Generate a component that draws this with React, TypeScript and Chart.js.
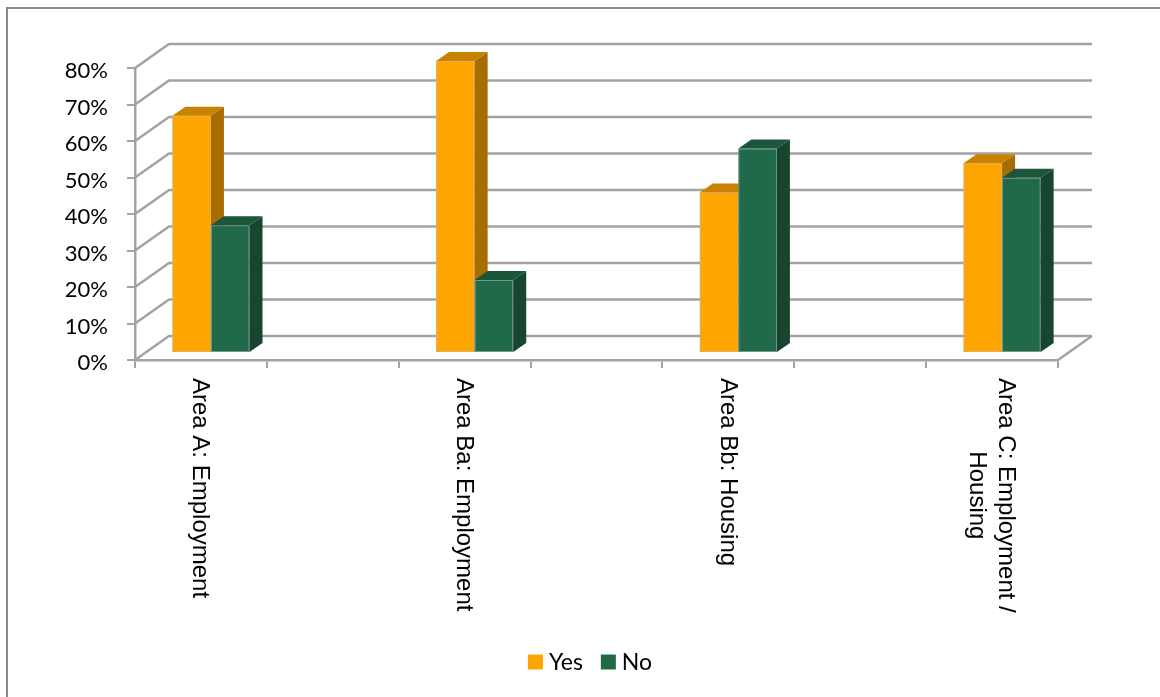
import React, { useEffect, useRef } from 'react';
import { Chart, registerables } from 'chart.js';

Chart.register(...registerables);

// ---- data ----
const categories: (string | string[])[] = [
  'Area A: Employment',
  '',
  'Area Ba: Employment',
  '',
  'Area Bb: Housing',
  '',
  ['Area C: Employment /', 'Housing'],
];
const yesValues: (number | null)[] = [65, null, 80, null, 44, null, 52];
const noValues: (number | null)[] = [35, null, 20, null, 56, null, 48];
const seriesNames = ['Yes', 'No'];
const yMax = 80;
const yStep = 10;

// ---- styles ----
const faceColors = [
  { front: '#FFA500', top: '#C98300', side: '#A86D00' },
  { front: '#206A4A', top: '#1B553B', side: '#17452F' },
];
const GRID = '#a3a3a3';
const WALL_DX = 34;
const WALL_DY = -24;
const BAR_OX = 10;
const BAR_OY = -7;
const BAR_DX = 13;
const BAR_DY = -9;

const threeD = {
  id: 'threeD',
  beforeDraw(chart: any) {
    const ctx = chart.ctx;
    ctx.save();
    ctx.strokeStyle = '#8a8a8a';
    ctx.lineWidth = 2;
    ctx.strokeRect(7, 8, chart.width + 100, chart.height + 100);
    ctx.restore();
  },
  beforeDatasetsDraw(chart: any) {
    const { ctx, chartArea, scales } = chart;
    const y = scales.y;
    ctx.save();
    ctx.strokeStyle = GRID;
    ctx.lineWidth = 2.5;
    ctx.lineJoin = 'miter';
    y.ticks.forEach((t: any) => {
      const py = y.getPixelForValue(t.value);
      ctx.beginPath();
      ctx.moveTo(chartArea.left, py);
      ctx.lineTo(chartArea.left + WALL_DX, py + WALL_DY);
      ctx.lineTo(chartArea.right + WALL_DX, py + WALL_DY);
      ctx.stroke();
    });
    ctx.beginPath();
    ctx.moveTo(chartArea.right, chartArea.bottom);
    ctx.lineTo(chartArea.right + WALL_DX, chartArea.bottom + WALL_DY);
    ctx.stroke();
    ctx.restore();
  },
  beforeDatasetDraw() {
    return false;
  },
  afterDatasetsDraw(chart: any) {
    const ctx = chart.ctx;
    const n = chart.data.labels.length;
    ctx.save();
    for (let i = 0; i < n; i++) {
      chart.data.datasets.forEach((ds: any, d: number) => {
        const v = ds.data[i];
        if (v == null) return;
        const el = chart.getDatasetMeta(d).data[i];
        const { x, y, base, width } = el.getProps(['x', 'y', 'base', 'width'], true);
        const l = x - width / 2 + BAR_OX;
        const r = x + width / 2 + BAR_OX;
        const t = y + BAR_OY;
        const b = base + BAR_OY;
        const c = faceColors[d];
        // front
        ctx.fillStyle = c.front;
        ctx.fillRect(l, t, r - l, b - t);
        ctx.strokeStyle = 'rgba(190,190,190,0.55)';
        ctx.lineWidth = 1;
        ctx.strokeRect(l + 0.5, t + 0.5, r - l - 1, b - t - 1);
        // top
        ctx.fillStyle = c.top;
        ctx.beginPath();
        ctx.moveTo(l, t);
        ctx.lineTo(l + BAR_DX, t + BAR_DY);
        ctx.lineTo(r + BAR_DX, t + BAR_DY);
        ctx.lineTo(r, t);
        ctx.closePath();
        ctx.fill();
        // side
        ctx.fillStyle = c.side;
        ctx.beginPath();
        ctx.moveTo(r, t);
        ctx.lineTo(r + BAR_DX, t + BAR_DY);
        ctx.lineTo(r + BAR_DX, b + BAR_DY);
        ctx.lineTo(r, b);
        ctx.closePath();
        ctx.fill();
      });
    }
    ctx.restore();
  },
  afterDraw(chart: any) {
    const { ctx, chartArea, scales } = chart;
    const xs = scales.x;
    ctx.save();
    // category labels, rotated 90deg clockwise
    ctx.fillStyle = '#000';
    ctx.font = '24px "Liberation Sans", Arial, sans-serif';
    const LH = 29;
    chart.data.labels.forEach((lab: any, i: number) => {
      const lines: string[] = Array.isArray(lab) ? lab : [lab];
      if (!lines.join('')) return;
      const cx = xs.getPixelForValue(i) - 1;
      const maxW = Math.max(...lines.map((s) => ctx.measureText(s).width));
      const startY = chartArea.bottom + 18;
      lines.forEach((s, k) => {
        const lx = cx + ((lines.length - 1) / 2 - k) * LH;
        ctx.save();
        ctx.translate(lx, startY + maxW / 2);
        ctx.rotate(Math.PI / 2);
        ctx.textAlign = 'center';
        ctx.textBaseline = 'middle';
        ctx.fillText(s, 0, 0);
        ctx.restore();
      });
    });
    // legend
    ctx.font = '23px Lato, sans-serif';
    ctx.textBaseline = 'middle';
    ctx.textAlign = 'left';
    const box = 15;
    const gap = 6;
    const itemGap = 18;
    const widths = chart.data.datasets.map((ds: any) => box + gap + ctx.measureText(ds.label).width);
    const total = widths.reduce((a: number, b: number) => a + b, 0) + itemGap * (widths.length - 1);
    let lx = chart.width / 2 + 10 - total / 2;
    const ly = chart.height - 35;
    chart.data.datasets.forEach((ds: any, d: number) => {
      ctx.fillStyle = faceColors[d].front;
      ctx.fillRect(lx, ly - box / 2, box, box);
      ctx.fillStyle = '#000';
      ctx.fillText(ds.label, lx + box + gap, ly + 1);
      lx += widths[d] + itemGap;
    });
    ctx.restore();
  },
};

export default function App() {
  const ref = useRef<HTMLCanvasElement | null>(null);
  useEffect(() => {
    if (!ref.current) return;
    const chart = new Chart(ref.current, {
      type: 'bar',
      data: {
        labels: categories,
        datasets: [
          { label: seriesNames[0], data: yesValues, backgroundColor: faceColors[0].front },
          { label: seriesNames[1], data: noValues, backgroundColor: faceColors[1].front },
        ],
      },
      options: {
        responsive: false,
        animation: false,
        devicePixelRatio: 1,
        layout: { padding: { left: 0, top: 68, right: 102, bottom: 0 } },
        plugins: { legend: { display: false }, tooltip: { enabled: false } },
        datasets: { bar: { categoryPercentage: 0.585, barPercentage: 1 } },
        scales: {
          x: {
            offset: true,
            grid: { offset: true, drawOnChartArea: false, drawTicks: true, tickLength: 8, color: GRID, lineWidth: 2 },
            border: { display: true, color: GRID, width: 2.5 },
            ticks: { display: false },
            afterFit: (s: any) => {
              s.height = 697 - 360;
            },
          },
          y: {
            min: 0,
            max: yMax,
            grid: { drawOnChartArea: false, drawTicks: true, tickLength: 8, color: GRID, lineWidth: 2 },
            border: { display: true, color: GRID, width: 2.5 },
            ticks: {
              stepSize: yStep,
              padding: 19,
              labelOffset: 3,
              color: '#000',
              font: { family: 'Lato', size: 22 },
              callback: (v: any) => `${v}%`,
            },
            afterFit: (s: any) => {
              s.width = 135;
            },
          },
        },
      } as any,
      plugins: [threeD as any],
    });
    return () => chart.destroy();
  }, []);
  return (
    <div style={{ position: 'absolute', left: 0, top: 0, width: 1160, height: 697, overflow: 'hidden', background: '#fff' }}>
      <canvas ref={ref} width={1160} height={697} style={{ display: 'block' }} />
    </div>
  );
}
